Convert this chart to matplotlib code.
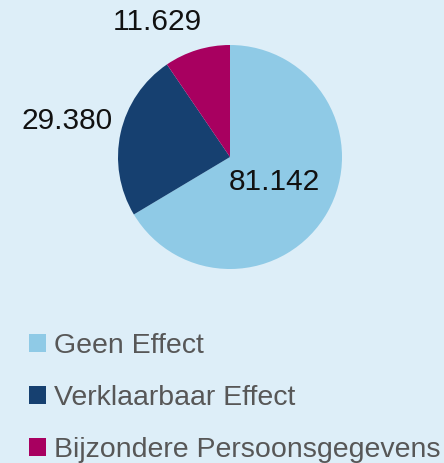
import numpy as np
import matplotlib
matplotlib.use("Agg")
import matplotlib.pyplot as plt

# data
labels = ["Geen Effect", "Verklaarbaar Effect", "Bijzondere Persoonsgegevens"]
values = [81142, 29380, 11629]
value_labels = ["81.142", "29.380", "11.629"]
colors = ["#8fcae6", "#164070", "#a80060"]

bg = "#ddeef8"
plt.rcParams['font.family'] = ['Liberation Sans', 'DejaVu Sans']

fig = plt.figure(figsize=(4.44, 4.63), dpi=100, facecolor=bg)
ax = fig.add_axes([118 / 444, 1 - 269 / 463, 224 / 444, 224 / 463])
ax.set_facecolor(bg)

wedges, _ = ax.pie(values, colors=colors, startangle=90, counterclock=False,
                   radius=1, wedgeprops=dict(linewidth=0))
ax.set_xlim(-1, 1)
ax.set_ylim(-1, 1)
ax.set_aspect('equal')
ax.axis('off')

# label placement (distance from centre, angle tweak in degrees)
label_dist = [0.46, 1.49, 1.37]
label_shift = [0, 0, 11]
for w, txt, d, s in zip(wedges, value_labels, label_dist, label_shift):
    ang = np.deg2rad((w.theta1 + w.theta2) / 2 + s)
    ax.text(d * np.cos(ang), d * np.sin(ang), txt, ha='center', va='center',
            fontsize=21.5, color='#111111', clip_on=False)

leg = fig.legend(wedges, labels, loc='upper left', bbox_to_anchor=(29 / 444, 1 - 333 / 463),
                 frameon=False, fontsize=20.5, handlelength=0.58, handleheight=0.58,
                 handletextpad=0.3, labelspacing=0.92, borderpad=0, borderaxespad=0)
for t in leg.get_texts():
    t.set_color('#575757')

fig.savefig("out.png", dpi=100, facecolor=bg)
